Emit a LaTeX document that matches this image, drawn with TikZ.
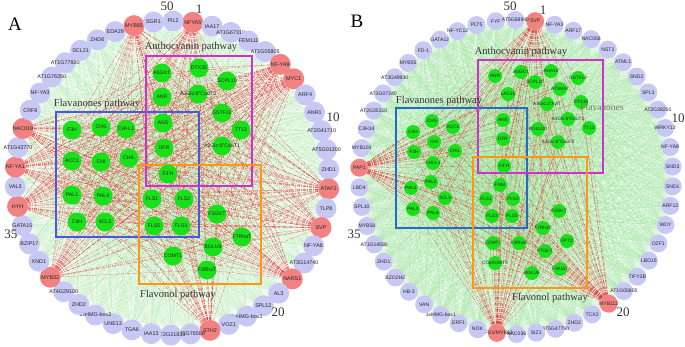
\documentclass[tikz,border=0pt]{standalone}
\usepackage{fontspec}
\setmainfont{Liberation Serif}
\setsansfont{Liberation Sans}
\pgfdeclarelayer{edges}
\pgfdeclarelayer{boxes}
\pgfsetlayers{edges,boxes,main}
\definecolor{lav}{RGB}{200,200,245}
\definecolor{tfred}{RGB}{242,130,130}
\definecolor{gnode}{RGB}{25,225,25}
\definecolor{bgline}{RGB}{120,215,120}
\definecolor{redline}{RGB}{225,25,25}
\definecolor{boxblueA}{RGB}{70,90,220}
\definecolor{boxblueB}{RGB}{30,110,200}
\definecolor{boxmag}{RGB}{205,50,205}
\definecolor{boxorange}{RGB}{255,150,20}
\newcommand\zw[1]{\makebox[0pt][c]{#1}}
\tikzset{
 outerA/.style={circle, draw=none, minimum size=21pt, inner sep=0pt, font=\sffamily\fontsize{5.4}{6}\selectfont, text=black!85},
 outerB/.style={outerA, minimum size=18pt, font=\sffamily\fontsize{5.1}{6}\selectfont},
 geneA/.style={circle, fill=gnode, minimum size=19pt, inner sep=0pt, font=\sffamily\fontsize{5.2}{6}\selectfont, text=black!85},
 geneB/.style={geneA, minimum size=14pt, font=\sffamily\fontsize{4.7}{6}\selectfont},
 bgedgeA/.style={draw=bgline, line width=0.3pt, opacity=0.22},
 bgedgeB/.style={draw=bgline, line width=0.3pt, opacity=0.22},
 redge/.style={draw=redline, line width=0.3pt, dash pattern=on 3pt off 1pt on 1pt off 1pt, opacity=0.65},
 pbox/.style={line width=1.3pt},
 ptitle/.style={font=\fontsize{10.5}{12}\selectfont, text=black!80},
 idx/.style={font=\fontsize{13}{14}\selectfont, text=black!80},
 panel/.style={font=\fontsize{19}{20}\selectfont},
}
\begin{document}
\begin{tikzpicture}[x=1pt,y=-1pt]
\useasboundingbox (0,0) rectangle (685,346);

% ---------------- Panel A ----------------
\foreach \lab/\col [count=\i] in {NFYA5/tfred, IAA17/lav, AT1G67310/lav, FEM111/lav, AT1G05805/lav, NF-YA9/tfred, MYC1/tfred, ARF4/lav, ANR1/lav, AT2G41710/lav, AT5G01200/lav, ZHD1/lav, ATAF1/tfred, TLP8/lav, SVP/tfred, NF-YA8/lav, AT3G14740/lav, NARS1/tfred, AL3/lav, SPL12/lav, 3xHMG-box1/lav, VOZ1/lav, STH2/tfred, AT1G76590/lav, AT2G21830/lav, IAA13/lav, TGA6/lav, UNE13/lav, 3xHMG-box2/lav, ZHD2/lav, AT4G29100/lav, MYB32/tfred, XND1/lav, BZIP17/lav, GATA15/lav, HYH/tfred, VAL3/lav, NF-YA1/tfred, AT1G43770/lav, NAC019/tfred, CRF8/lav, NF-YA3/lav, AT1G76350/lav, AT1G77920/lav, SCL21/lav, ZHD6/lav, EDA29/lav, MYB65/tfred, SGR1/lav, PIL2/lav}{
  \pgfmathsetmacro\th{7.6+7.2*(\i-1)}
  \node[outerA, fill=\col] (aO\i) at ({172+157*sin(\th)},{178-157*cos(\th)}) {\zw{\lab}};
}
\foreach \lab/\x/\y [count=\j] in {A5GlcT/162/73, ANR/162/97, ANS/163/123, DFR/164/148, DTX35/199/68, SCPL10/227/81, A3Glc:6"CouT2/198/94, GSTF12/222/113, TT12/241/130, A3Glc:6"CouT1/222/146, F3H/72/130, CHS/101/127, CHI-L1/126/129, ACC1/72/161, CHI/101/162, CHIL/129/158, PAL1/72/195, PAL4/103/196, C4H/77/222, 4CL3/105/222, F3'H/168/174, FLS1/152/199, FLS2/184/199, FLS5/154/226, FLS3/181/226, F3GlcT/217/214, F7RhaT/242/237, BGLU6/213/247, COMT1/173/256, F3RhaT/207/270}{
  \node[geneA] (aG\j) at (\x,\y) {\zw{\lab}};
}
\begin{pgfonlayer}{edges}
\foreach \i in {1,...,49}{
  \pgfmathtruncatemacro\s{\i+1}
  \foreach \k in {\s,...,50} \draw[bgedgeA, opacity=0.07] (aO\i) -- (aO\k);
}
\foreach \i in {2,3,4,5,8,9,10,11,12,14,16,17,19,20,21,22,24,25,26,27,28,29,30,31,33,34,35,37,39,41,42,43,44,45,46,47,49,50}
  \foreach \j in {1,...,30} \draw[bgedgeA] (aO\i) -- (aG\j);
\foreach \i in {1,6,7,13,15,18,23,32,36,38,40,48}
  \foreach \j in {1,...,30} \draw[redge] (aO\i) -- (aG\j);
\end{pgfonlayer}
\begin{pgfonlayer}{boxes}
\draw[boxblueA, pbox] (56,112) rectangle (199,237);
\draw[boxmag, pbox] (146,56) rectangle (252,186);
\draw[boxorange, pbox] (139,165) rectangle (261,284);
\end{pgfonlayer}
\node[ptitle] (aT1) at (97,104) {Flavanones pathway};
\node[ptitle] (aT2) at (191,47) {Anthocyanin pathway};
\node[ptitle] (aT3) at (178,295) {Flavonol pathway};
\node[panel] (aP) at (15,24) {A};
\node[idx] (aN1) at (199,9) {1};
\node[idx] (aN10) at (333,117) {10};
\node[idx] (aN20) at (278,312) {20};
\node[idx] (aN35) at (11,234) {35};
\node[idx] (aN50) at (167,6) {50};

% ---------------- Panel B ----------------
\foreach \lab/\col [count=\i] in {SVP/tfred, NF-YA3/lav, ARF17/lav, NAC058/lav, NST2/lav, ATML1/lav, SND2/lav, SPL3/lav, AT2G38250/lav, WRKY12/lav, NF-YA8/lav, SND3/lav, SND1/lav, ARF12/lav, WDY/lav, OZF1/lav, LBD15/lav, TIFY3B/lav, AT1G05805/lav, MYB112/tfred, TCX2/lav, ZHD2/lav, AT5G47790/lav, SIZ1/lav, NAC036/lav, PFG1\slash MYB12/tfred, NOK/lav, ERF1/lav, 3xHMG-box1/lav, VAN/lav, HB-3/lav, BZO2H2/lav, ZHD1/lav, AT1G14580/lav, MYB58/lav, SPL10/lav, LBD4/lav, PAP1/tfred, MYB103/lav, C3H14/lav, AT2G35310/lav, AT3G07340/lav, AT3G49930/lav, MYB55/lav, FD-1/lav, GATA12/lav, NF-YC12/lav, PLT5/lav, FYF/lav, AT5G68940/lav}{
  \pgfmathsetmacro\th{7+7.2*(\i-1)}
  \node[outerB, fill=\col] (bO\i) at ({516+157*sin(\th)},{177-157*cos(\th)}) {\zw{\lab}};
}
\foreach \lab/\x/\y [count=\j] in {ANR/495/76, A5GlcT/521/72, AHA10/551/71, SCPL10/535/82, GSTF12/578/78, AT5MAT/560/89, LAC15/508/94, A3Glc:2"XylT/547/104, DTX35/581/102, ANS/503/120, A3Glc:6"CouT1/568/119, BGLU10/538/129, TT12/589/128, A3Glc:6"CouT2/558/142, DFR/503/139, F3'H/504/166, CHS/432/121, C4H/413/132, ACC1/453/127, CHI/434/142, F3H/414/152, CHIL/455/151, CHI-L1/433/163, PAL2/431/182, FNSI/500/185, PAL1/411/188, 4CL3/445/198, PAL3/413/209, PAL4/433/213, FLS1/486/199, FLS2/513/199, FLS3/492/216, FLS5/512/216, F3GlcT/559/211, F7RhaT/543/228, FPT2/567/241, COMT1/493/243, F3RhaT/519/243, F7GlcT/545/251, CCoAOMT7/495/263, BGLU6/532/273, F3AraT/560/269}{
  \node[geneB] (bG\j) at (\x,\y) {\zw{\lab}};
}
\begin{pgfonlayer}{edges}
\foreach \i in {1,...,49}{
  \pgfmathtruncatemacro\s{\i+1}
  \foreach \k in {\s,...,50} \draw[bgedgeB, opacity=0.15] (bO\i) -- (bO\k);
}
\foreach \i in {2,3,4,5,6,7,8,9,10,11,12,13,14,15,16,17,18,19,21,22,23,24,25,27,28,29,30,31,32,33,34,35,36,37,39,40,41,42,43,44,45,46,47,48,49,50}
  \foreach \j in {1,...,42} \draw[bgedgeB] (bO\i) -- (bG\j);
\foreach \i in {1,20,26,38}
  \foreach \j in {1,...,42} \draw[redge] (bO\i) -- (bG\j);
\end{pgfonlayer}
\begin{pgfonlayer}{boxes}
\draw[boxblueB, pbox] (396,108) rectangle (527,228);
\draw[boxmag, pbox] (478,60) rectangle (603,173);
\draw[boxorange, pbox] (473,157) rectangle (587,288);
\end{pgfonlayer}
\node[ptitle] (bT1) at (439,101) {Flavanones pathway};
\node[ptitle] (bT2) at (521,52) {Anthocyanin pathway};
\node[ptitle] (bT3) at (550,298) {Flavonol pathway};
\node[font=\fontsize{9.5}{11}\selectfont, text=black!55] (bT4) at (602,107) {Flavanones};
\node[panel] (bP) at (357,21) {B};
\node[idx] (bN1) at (543,10) {1};
\node[idx] (bN10) at (678,118) {10};
\node[idx] (bN20) at (623,312) {20};
\node[idx] (bN35) at (354,234) {35};
\node[idx] (bN50) at (510,6) {50};
\end{tikzpicture}
\end{document}
